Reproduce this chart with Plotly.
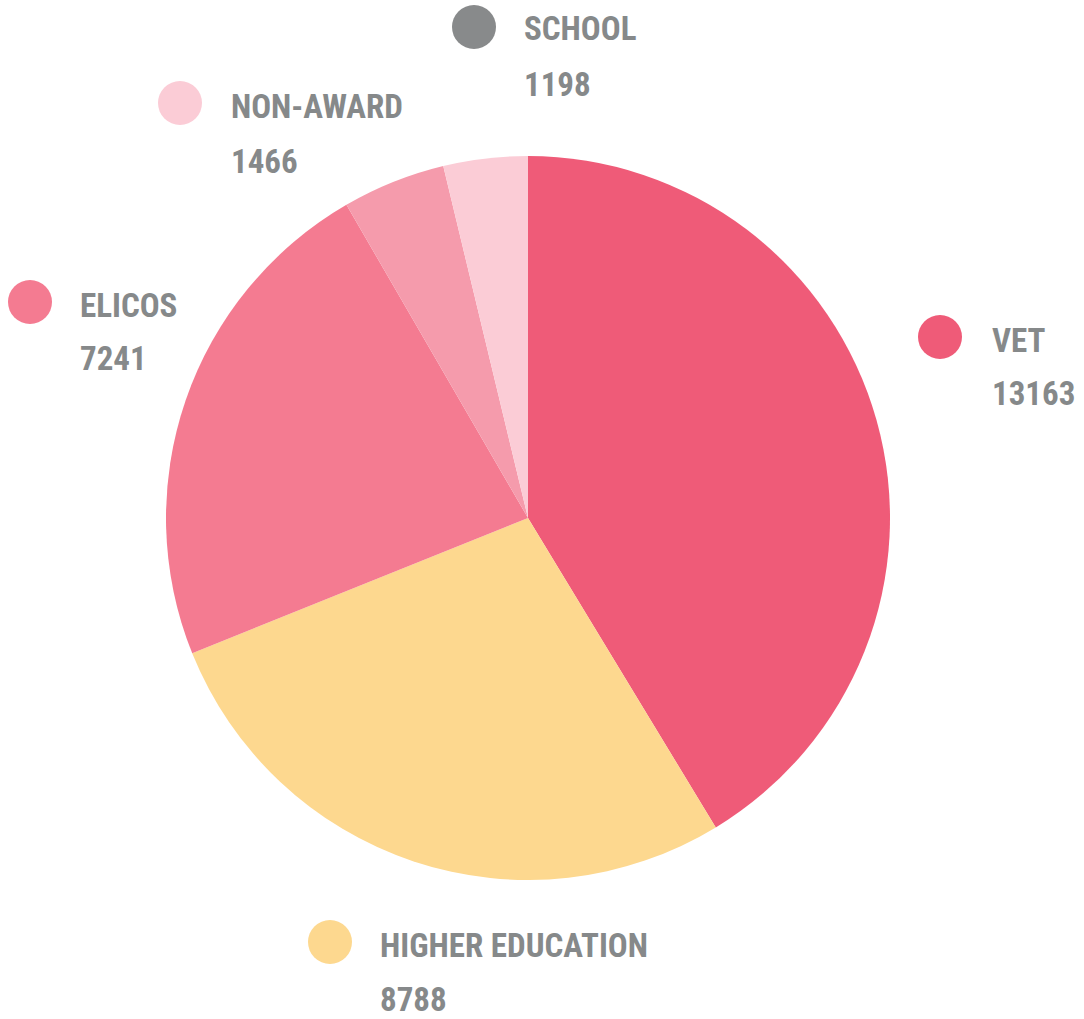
import plotly.graph_objects as go

W, H = 1084, 1019

categories = ["VET", "HIGHER EDUCATION", "ELICOS", "NON-AWARD", "SCHOOL"]
values = [13163, 8788, 7241, 1466, 1198]
slice_colors = ["#EF5B78", "#FDD88F", "#F47B91", "#F59BAC", "#FBCCD6"]
marker_colors = ["#EF5B78", "#FDD88F", "#F47B91", "#FBCCD6", "#888A8B"]

# label layout (pixel positions): circle center, text left, caption center y, value center y
label_pos = {
    "VET": (940, 337, 990, 340, 393),
    "HIGHER EDUCATION": (330, 942, 378, 945, 999),
    "ELICOS": (30, 302, 78, 305, 358),
    "NON-AWARD": (180, 103, 229, 107, 161),
    "SCHOOL": (474, 27, 522, 29, 84),
}

def px(x):
    return x / W

def py(y):
    return 1 - y / H

cx, cy, r = 528, 518, 362

fig = go.Figure(go.Pie(
    labels=categories,
    values=values,
    marker=dict(colors=slice_colors, line=dict(width=0)),
    sort=False,
    direction="clockwise",
    rotation=0,
    textinfo="none",
    hoverinfo="label+value",
    showlegend=False,
    domain=dict(x=[px(cx - r), px(cx + r)], y=[py(cy + r), py(cy - r)]),
))

font = dict(family="Roboto Condensed, Liberation Sans Narrow, Roboto, sans-serif", size=33,
            color="#86898A", weight="bold")

shapes = []
annotations = []
for cat, val, mcol in zip(categories, values, marker_colors):
    mx, my, tx, ly, vy = label_pos[cat]
    rr = 22
    shapes.append(dict(type="circle", xref="paper", yref="paper",
                       x0=px(mx - rr), x1=px(mx + rr), y0=py(my + rr), y1=py(my - rr),
                       fillcolor=mcol, line=dict(width=0)))
    annotations.append(dict(text=cat, xref="paper", yref="paper", x=px(tx), y=py(ly),
                            xanchor="left", yanchor="middle", showarrow=False, font=font))
    annotations.append(dict(text=str(val), xref="paper", yref="paper", x=px(tx), y=py(vy),
                            xanchor="left", yanchor="middle", showarrow=False, font=font))

fig.update_layout(
    width=W, height=H,
    margin=dict(l=0, r=0, t=0, b=0),
    paper_bgcolor="white", plot_bgcolor="white",
    shapes=shapes, annotations=annotations,
)

fig.write_html("out.html")
